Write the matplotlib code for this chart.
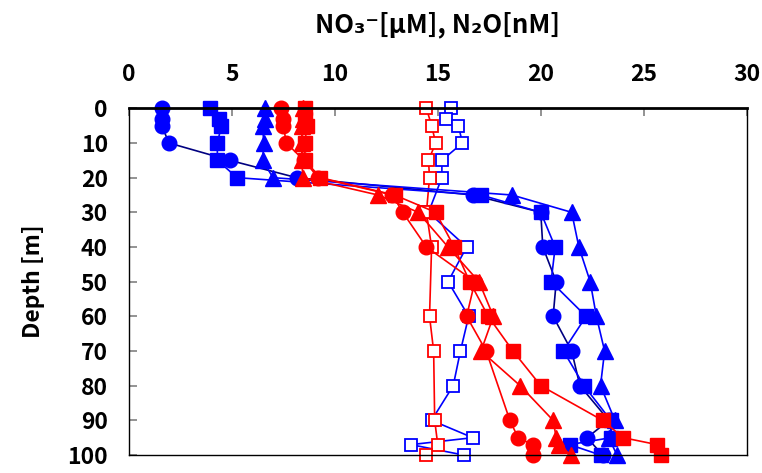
import matplotlib
matplotlib.use("Agg")
import matplotlib.pyplot as plt

plt.rcParams['font.family'] = ['Noto Sans CJK JP', 'DejaVu Sans']
plt.rcParams['font.weight'] = 'bold'

# blue, filled
blue_circ_depth = [0, 3, 5, 10, 15, 20, 25, 30, 40, 50, 60, 70, 80, 90, 95, 100]
blue_circ = [1.6, 1.6, 1.6, 1.95, 4.9, 8.15, 16.7, 20.0, 20.1, 20.75, 20.6, 21.5, 21.9, 23.3, 22.25, 23.0]

blue_sq_depth = [0, 3, 5, 10, 15, 20, 25, 30, 40, 50, 60, 70, 80, 90, 95, 97, 100]
blue_sq = [3.93, 4.4, 4.5, 4.3, 4.3, 5.26, 17.1, 20.0, 20.7, 20.5, 22.2, 21.1, 22.1, 23.4, 23.4, 21.4, 22.9]

blue_tri_depth = [0, 3, 5, 10, 15, 20, 25, 30, 40, 50, 60, 70, 80, 90, 95, 100]
blue_tri = [6.6, 6.6, 6.5, 6.55, 6.5, 7.0, 18.6, 21.5, 21.85, 22.4, 22.7, 23.1, 22.9, 23.6, 23.3, 23.7]

# red, filled
red_circ_depth = [0, 3, 5, 10, 15, 20, 25, 30, 40, 50, 60, 70, 90, 95, 97, 100]
red_circ = [7.4, 7.5, 7.5, 7.65, 8.5, 9.2, 12.8, 13.3, 14.45, 16.8, 16.4, 17.35, 18.5, 18.9, 19.6, 19.6]

red_sq_depth = [0, 3, 5, 10, 15, 20, 25, 30, 40, 50, 60, 70, 80, 90, 95, 97, 100]
red_sq = [8.55, 8.55, 8.65, 8.55, 8.55, 9.3, 12.9, 14.9, 15.8, 16.55, 17.45, 18.65, 20.0, 23.0, 24.0, 25.65, 25.85]

red_tri_depth = [0, 3, 5, 10, 15, 20, 25, 30, 40, 50, 60, 70, 80, 90, 95, 97, 100]
red_tri = [8.45, 8.45, 8.4, 8.4, 8.4, 8.45, 12.1, 14.05, 15.5, 17.0, 17.7, 17.1, 19.0, 20.6, 20.75, 20.9, 21.45]

# open squares (N2O)
blue_open_depth = [0, 3, 5, 10, 15, 20, 30, 40, 50, 60, 70, 80, 90, 95, 97, 100]
blue_open = [15.65, 15.4, 16.0, 16.2, 15.2, 15.2, 14.55, 16.4, 15.5, 16.5, 16.1, 15.75, 14.7, 16.7, 13.7, 16.25]

red_open_depth = [0, 5, 10, 15, 20, 30, 40, 60, 70, 90, 97, 100]
red_open = [14.45, 14.7, 14.9, 14.55, 14.6, 14.45, 14.7, 14.6, 14.8, 14.85, 15.0, 14.45]

BLUE = '#0000FF'
RED = '#FF0000'
NAVY = '#000080'

fig = plt.figure(figsize=(7.62, 4.73), dpi=100)
ax = fig.add_axes([0.169, 0.038, 0.811, 0.733])

ax.plot(blue_open, blue_open_depth, '-s', color=BLUE, mfc='white', mec=BLUE, ms=9, mew=1.3, lw=1.2)
ax.plot(red_open, red_open_depth, '-s', color=RED, mfc='white', mec=RED, ms=9, mew=1.3, lw=1.2)

ax.plot(blue_circ, blue_circ_depth, '-o', color=NAVY, mfc=BLUE, mec=BLUE, ms=10.5, lw=1.2)
ax.plot(blue_sq, blue_sq_depth, '-s', color=BLUE, ms=10, lw=1.2)
ax.plot(blue_tri, blue_tri_depth, '-^', color=BLUE, ms=11.5, lw=1.2)

ax.plot(red_circ, red_circ_depth, '-o', color=RED, ms=10.5, lw=1.2)
ax.plot(red_sq, red_sq_depth, '-s', color=RED, ms=10, lw=1.2)
ax.plot(red_tri, red_tri_depth, '-^', color=RED, ms=11.5, lw=1.2)

ax.set_xlim(0, 30)
ax.set_ylim(100, 0)
ax.set_xticks(range(0, 31, 5))
ax.set_yticks(range(0, 101, 10))
ax.xaxis.tick_top()
ax.xaxis.set_label_position('top')
ax.tick_params(axis='both', direction='in', length=6, width=1.2, color='#808080',
               labelsize=16.5)
ax.tick_params(axis='x', pad=16)
ax.tick_params(axis='y', pad=15)
for lab in ax.get_xticklabels() + ax.get_yticklabels():
    lab.set_fontweight('bold')

ax.set_xlabel('NO₃⁻[μM], N₂O[nM]', fontsize=18.5, fontweight='bold', labelpad=22)
ax.set_ylabel('Depth [m]', fontsize=16.5, fontweight='bold', labelpad=16)

for side in ['top', 'bottom', 'left', 'right']:
    ax.spines[side].set_color('black')
    ax.spines[side].set_linewidth(1.0)
ax.spines['top'].set_linewidth(2.0)

for line in ax.lines:
    line.set_clip_on(False)

fig.savefig('out.png', dpi=100)
